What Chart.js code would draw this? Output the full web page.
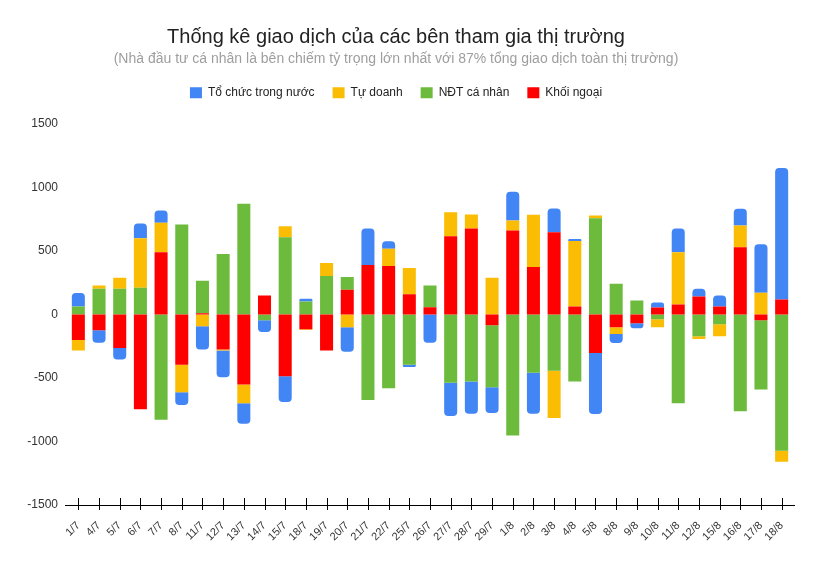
<!DOCTYPE html>
<html>
<head>
<meta charset="utf-8">
<script src="https://cdn.jsdelivr.net/npm/chart.js@4.4.0/dist/chart.umd.min.js"></script>
<style>
  html, body { margin: 0; padding: 0; background: #fff; }
  #wrap { width: 819px; height: 561px; }
</style>
</head>
<body>
<div id="wrap"><canvas id="tradeChart"></canvas></div>
<script>
// ngày giao dịch
const days = ['1/7', '4/7', '5/7', '6/7', '7/7', '8/7', '11/7', '12/7', '13/7', '14/7', '15/7', '18/7',
  '19/7', '20/7', '21/7', '22/7', '25/7', '26/7', '27/7', '28/7', '29/7', '1/8', '2/8', '3/8', '4/8',
  '5/8', '8/8', '9/8', '10/8', '11/8', '12/8', '15/8', '16/8', '17/8', '18/8'];

// giá trị (tỷ đồng)
const khoiNgoai = [-202, -124, -264, -747, 490, -397, 10, -277, -552, 148, -487, -117,
  -285, 194, 389, 381, 158, 57, 615, 677, -86, 661, 373, 646, 62,
  -303, -101, -70, 54, 78, 140, 62, 529, -47, 117];
const ndtCaNhan = [62, 202, 202, 210, -830, 708, 254, 475, 871, -47, 607, 101,
  303, 101, -674, -581, -397, 171, -537, -529, -487, -954, -459, -443, -529,
  757, 241, 109, -39, -700, -171, -78, -762, -545, -1074];
const tuDoanh = [-83, 26, 86, 389, 231, -215, -93, -8, -148, 0, 86, -5,
  101, -101, 0, 135, 207, 0, 189, 109, 288, 78, 412, -373, 516,
  21, -54, 0, -62, 412, -23, -93, 171, 171, -86];
const toChucTrongNuoc = [106, -99, -91, 117, 96, -101, -184, -210, -161, -91, -202, 23,
  0, -192, 288, 60, -16, -223, -262, -252, -202, 226, -322, 187, 16,
  -480, -70, -39, 39, 187, 62, 86, 132, 381, 1035];

const yTicks = [-1500, -1000, -500, 0, 500, 1000, 1500];

const FONT = "'Liberation Sans', Arial, sans-serif";

// thêm khoảng trống dưới chú giải
const legendGap = {
  id: 'legendGap',
  beforeInit(chart) {
    const fit = chart.legend.fit;
    chart.legend.fit = function () {
      fit.bind(chart.legend)();
      this.height += 15;
    };
  }
};

// vạch chia trục x cắt qua đường trục (như Google Sheets)
const crossTicks = {
  id: 'crossTicks',
  afterDraw(chart) {
    const x = chart.scales.x;
    const ctx = chart.ctx;
    const y0 = chart.chartArea.bottom;
    ctx.save();
    ctx.strokeStyle = '#000';
    ctx.lineWidth = 1;
    ctx.beginPath();
    ctx.moveTo(chart.chartArea.left - 3, y0 + 0.5);
    ctx.lineTo(chart.chartArea.right + 3, y0 + 0.5);
    days.forEach((d, i) => {
      const px = Math.round(x.getPixelForValue(i)) + 0.5;
      ctx.moveTo(px, y0 - 7);
      ctx.lineTo(px, y0 + 5);
    });
    ctx.stroke();
    ctx.restore();
  }
};

function makeSet(label, data, color, radius) {
  return {
    label: label,
    data: data,
    backgroundColor: color,
    borderWidth: 0,
    borderRadius: radius,
    borderSkipped: 'middle',
    barPercentage: 0.63,
    categoryPercentage: 1.0
  };
}

new Chart(document.getElementById('tradeChart'), {
  type: 'bar',
  data: {
    labels: days,
    datasets: [
      makeSet('Khối ngoại', khoiNgoai, '#ff0000', 0),
      makeSet('NĐT cá nhân', ndtCaNhan, '#6cbb3c', 0),
      makeSet('Tự doanh', tuDoanh, '#fbbc04', 0),
      makeSet('Tổ chức trong nước', toChucTrongNuoc, '#4285f4', 4)
    ]
  },
  options: {
    responsive: true,
    maintainAspectRatio: false,
    animation: false,
    layout: { padding: { left: 0, right: 27, top: 0, bottom: 0 } },
    plugins: {
      title: {
        display: true,
        text: 'Thống kê giao dịch của các bên tham gia thị trường',
        color: '#222',
        font: { family: FONT, size: 20, weight: 'normal' },
        padding: { top: 25, bottom: 0 }
      },
      subtitle: {
        display: true,
        text: '(Nhà đầu tư cá nhân là bên chiếm tỷ trọng lớn nhất với 87% tổng giao dịch toàn thị trường)',
        color: '#9e9e9e',
        font: { family: FONT, size: 14, weight: 'normal' },
        padding: { top: 2, bottom: 1 }
      },
      legend: {
        display: true,
        position: 'top',
        reverse: true,
        labels: {
          color: '#222',
          font: { family: FONT, size: 12 },
          boxWidth: 12,
          boxHeight: 11,
          padding: 18
        }
      },
      tooltip: { enabled: false }
    },
    scales: {
      x: {
        stacked: true,
        grid: { display: false },
        border: { display: false },
        ticks: {
          color: '#333',
          font: { family: FONT, size: 11 },
          maxRotation: 45,
          minRotation: 45,
          autoSkip: false,
          padding: 6
        },
        afterFit(scale) { scale.height = 56; }
      },
      y: {
        stacked: true,
        min: -1500,
        max: 1500,
        grid: { display: false, drawTicks: false },
        border: { display: false },
        afterBuildTicks(scale) { scale.ticks = yTicks.map(v => ({ value: v })); },
        ticks: {
          color: '#333',
          font: { family: FONT, size: 12 },
          padding: 10,
          callback: (v) => String(v)
        },
        afterFit(scale) { scale.width = 68; }
      }
    }
  },
  plugins: [legendGap, crossTicks]
});
</script>
</body>
</html>
